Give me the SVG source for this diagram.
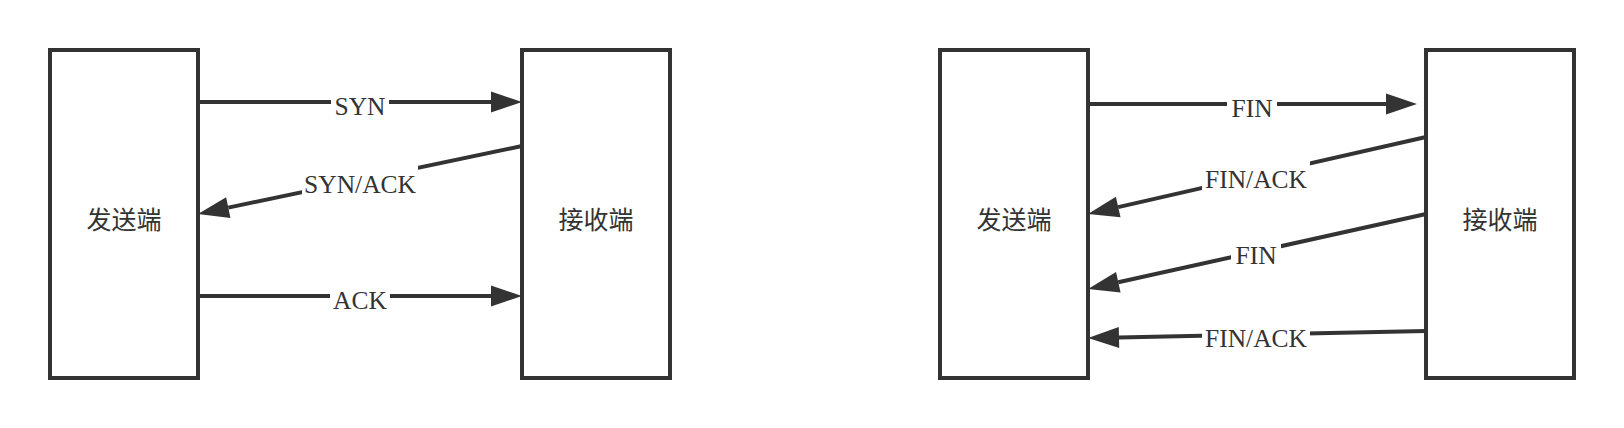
<svg xmlns="http://www.w3.org/2000/svg" width="1624" height="428" viewBox="0 0 1624 428">
  <style>
    .box { fill: #ffffff; stroke: #333333; stroke-width: 4; }
    .node-label { font-family: "Noto Sans CJK SC", "Noto Sans CJK JP", sans-serif; font-size: 25px; fill: #333333; text-anchor: middle; }
    .edge { fill: none; stroke: #333333; stroke-width: 4; marker-end: url(#arrow); }
    .lbl-bg { fill: #ffffff; }
    .edge-label { font-family: "Liberation Serif", "Times New Roman", serif; font-size: 25.5px; fill: #333333; text-anchor: middle; }
  </style>
  <defs>
    <marker id="arrow" markerUnits="userSpaceOnUse" markerWidth="32" markerHeight="22" refX="0" refY="10.5" orient="auto" overflow="visible">
      <path d="M0,0 L31,10.5 L0,21 Z" fill="#333333"/>
    </marker>
  </defs>
  <rect width="1624" height="428" fill="#ffffff"/>

  <!-- Handshake diagram nodes -->
  <g id="sender-1">
    <rect class="box" x="50" y="50" width="148" height="328"/>
    <text class="node-label" x="124" y="229">发送端</text>
  </g>
  <g id="receiver-1">
    <rect class="box" x="522" y="50" width="148" height="328"/>
    <text class="node-label" x="596" y="229">接收端</text>
  </g>

  <!-- Teardown diagram nodes -->
  <g id="sender-2">
    <rect class="box" x="940" y="50" width="148" height="328"/>
    <text class="node-label" x="1014" y="229">发送端</text>
  </g>
  <g id="receiver-2">
    <rect class="box" x="1426" y="50" width="148" height="328"/>
    <text class="node-label" x="1500" y="229">接收端</text>
  </g>

  <g id="connectors">
    <!-- SYN -->
    <g id="edge-syn">
      <path class="edge" d="M198,102 L491,102"/>
      <rect class="lbl-bg" x="331" y="86" width="58" height="34"/>
      <text class="edge-label" x="360" y="114.7">SYN</text>
    </g>
    <!-- SYN/ACK -->
    <g id="edge-synack">
      <path class="edge" d="M522,146 L228.3,207.6"/>
      <rect class="lbl-bg" x="302" y="164" width="116" height="34"/>
      <text class="edge-label" x="360" y="192.7">SYN/ACK</text>
    </g>
    <!-- ACK -->
    <g id="edge-ack">
      <path class="edge" d="M198,296 L491,296"/>
      <rect class="lbl-bg" x="330" y="280" width="60" height="34"/>
      <text class="edge-label" x="360" y="308.7">ACK</text>
    </g>
    <!-- FIN -->
    <g id="edge-fin1">
      <path class="edge" d="M1088,104 L1386,104"/>
      <rect class="lbl-bg" x="1227" y="88" width="50" height="34"/>
      <text class="edge-label" x="1252" y="116.7">FIN</text>
    </g>
    <!-- FIN/ACK 1 -->
    <g id="edge-finack1">
      <path class="edge" d="M1426,137 L1118.2,207.1"/>
      <rect class="lbl-bg" x="1202" y="160" width="108" height="34"/>
      <text class="edge-label" x="1256" y="188.4">FIN/ACK</text>
    </g>
    <!-- FIN 2 -->
    <g id="edge-fin2">
      <path class="edge" d="M1426,214 L1118.3,282.3"/>
      <rect class="lbl-bg" x="1231" y="236" width="50" height="34"/>
      <text class="edge-label" x="1256" y="264.4">FIN</text>
    </g>
    <!-- FIN/ACK 2 -->
    <g id="edge-finack2">
      <path class="edge" d="M1426,331 L1119,337.4"/>
      <rect class="lbl-bg" x="1202" y="319" width="108" height="34"/>
      <text class="edge-label" x="1256" y="347.2">FIN/ACK</text>
    </g>
  </g>
</svg>
